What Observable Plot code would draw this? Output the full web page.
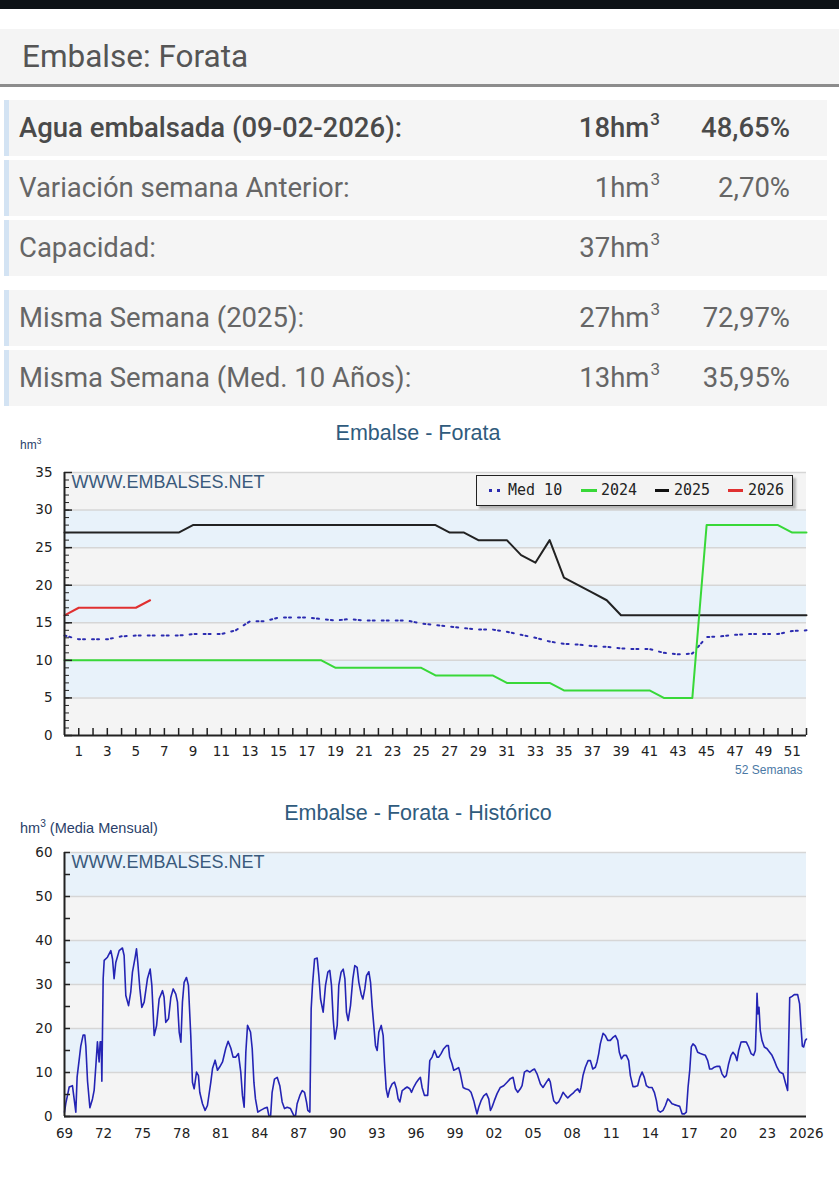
<!DOCTYPE html>
<html lang="es">
<head>
<meta charset="utf-8">
<title>Embalse: Forata</title>
<script src="https://cdn.jsdelivr.net/npm/d3@7"></script>
<script src="https://cdn.jsdelivr.net/npm/@observablehq/plot@0.6"></script>
<style>
  body { margin: 0; background: #fff; }
  #page { position: relative; width: 839px; height: 1200px; overflow: hidden; font-family: Roboto, "Noto Sans", sans-serif; }
  .abs { position: absolute; }
  #status { left: 0; top: 0; width: 839px; height: 9px; background: #0d1216; }
  #header { left: 0; top: 29px; width: 839px; height: 55px; background: #f4f4f4; border-bottom: 3px solid #8c8c8c; }
  #header span { position: absolute; left: 22px; top: 0; line-height: 55px; font-size: 31.5px; color: #555; }
  .row { position: absolute; left: 4px; width: 823px; height: 56px; background: #f5f5f5; border-left: 5px solid #d3e3f3; box-sizing: border-box; font-size: 27.5px; color: #666; }
  .row.main { color: #4a4a4a; font-weight: 500; }
  .row span { position: absolute; top: 0; line-height: 56px; white-space: nowrap; }
  .row .lab { left: 10px; }
  .row .v1 { right: 167px; }
  .row .v2 { right: 37px; }
  .row sup { font-size: 17px; vertical-align: baseline; position: relative; top: -12px; margin-left: 1px; line-height: 0; }
  .title { left: 0; width: 836px; text-align: center; font-family: "Liberation Sans", Arial, sans-serif; font-size: 21.5px; color: #2f5b7d; }
  .unit { font-family: "Liberation Sans", Arial, sans-serif; color: #2a3f6a; }
  .unit sup { font-size: 0.7em; }
  #legend { left: 476px; top: 475px; width: 317px; height: 31px; box-sizing: border-box; border: 1.5px solid #222; background: #f3f3f3; box-shadow: 3px 3px 2px #b5b5b5; font-family: "DejaVu Sans Mono", monospace; font-size: 15px; color: #222; }
  #legend .t { position: absolute; top: 0; line-height: 28px; }
  #legend .sw { position: absolute; top: 13px; height: 3px; }
  #legend .dot { position: absolute; top: 13px; width: 3px; height: 3px; background: #2b2bb0; }
</style>
</head>
<body>
<div id="page">
  <div id="status" class="abs"></div>
  <div id="header" class="abs"><span>Embalse: Forata</span></div>
  <div id="rows"></div>

  <div class="abs title" style="top:420px;line-height:26px;">Embalse - Forata</div>
  <div class="abs unit" style="left:20px;top:436px;font-size:12px;">hm<sup>3</sup></div>
  <div id="chart1" class="abs" style="left:0;top:440px;"></div>
  <div id="legend" class="abs"></div>

  <div class="abs title" style="top:800px;line-height:26px;">Embalse - Forata - Histórico</div>
  <div class="abs unit" style="left:20px;top:818px;font-size:14.5px;">hm<sup>3</sup> (Media Mensual)</div>
  <div id="chart2" class="abs" style="left:0;top:840px;"></div>
</div>

<script>
// ---- Summary table ----
const rowLabels = ["Agua embalsada (09-02-2026):", "Variación semana Anterior:", "Capacidad:", "Misma Semana (2025):", "Misma Semana (Med. 10 Años):"];
const rowVolumes = [18, 1, 37, 27, 13];
const rowPercents = ["48,65%", "2,70%", "", "72,97%", "35,95%"];
const rowTops = [100, 160, 220, 290, 350];

const rowsEl = document.getElementById("rows");
rowLabels.forEach((label, i) => {
  const r = document.createElement("div");
  r.className = "row" + (i === 0 ? " main" : "");
  r.style.top = rowTops[i] + "px";
  r.innerHTML = `<span class="lab">${label}</span>` +
    `<span class="v1">${rowVolumes[i]}hm<sup>3</sup></span>` +
    `<span class="v2">${rowPercents[i]}</span>`;
  rowsEl.appendChild(r);
});

// ---- Weekly reserve (hm3), weeks 0..52 ----
const med10 = [13.3, 12.8, 12.8, 12.8, 13.2, 13.3, 13.3, 13.3, 13.3, 13.5, 13.5, 13.5, 14.0, 15.2, 15.2, 15.7, 15.7, 15.7, 15.5, 15.3, 15.5, 15.3, 15.3, 15.3, 15.3, 14.9, 14.7, 14.5, 14.3, 14.1, 14.1, 13.8, 13.4, 13.0, 12.5, 12.2, 12.1, 11.9, 11.8, 11.6, 11.5, 11.5, 11.0, 10.8, 10.9, 13.1, 13.2, 13.4, 13.5, 13.5, 13.5, 13.9, 14.0];
const year2024 = [10, 10, 10, 10, 10, 10, 10, 10, 10, 10, 10, 10, 10, 10, 10, 10, 10, 10, 10, 9, 9, 9, 9, 9, 9, 9, 8, 8, 8, 8, 8, 7, 7, 7, 7, 6, 6, 6, 6, 6, 6, 6, 5, 5, 5, 28, 28, 28, 28, 28, 28, 27, 27];
const year2025 = [27, 27, 27, 27, 27, 27, 27, 27, 27, 28, 28, 28, 28, 28, 28, 28, 28, 28, 28, 28, 28, 28, 28, 28, 28, 28, 28, 27, 27, 26, 26, 26, 24, 23, 26, 21, 20, 19, 18, 16, 16, 16, 16, 16, 16, 16, 16, 16, 16, 16, 16, 16, 16];
const year2026 = [16, 17, 17, 17, 17, 17, 18];
const weekLabels = d3.range(1, 52, 2);

// ---- Monthly mean reserve history (hm3) ----
const histYears = [
  1969.00, 1969.10, 1969.23, 1969.36, 1969.61, 1969.74, 1969.87, 1969.97, 1970.13, 1970.25, 1970.43, 1970.56, 1970.64, 1970.77, 1970.95,
  1971.15, 1971.28, 1971.41, 1971.53, 1971.66, 1971.74, 1971.82, 1971.87, 1971.97, 1972.05, 1972.30, 1972.56, 1972.69, 1972.81, 1972.94,
  1973.20, 1973.45, 1973.58, 1973.71, 1973.92, 1974.09, 1974.22, 1974.43, 1974.53, 1974.63, 1974.79, 1974.94, 1975.12, 1975.37, 1975.58,
  1975.71, 1975.89, 1976.07, 1976.27, 1976.53, 1976.65, 1976.78, 1976.99, 1977.17, 1977.35, 1977.55, 1977.68, 1977.81, 1977.94, 1978.06,
  1978.19, 1978.37, 1978.52, 1978.70, 1978.83, 1978.96, 1979.14, 1979.29, 1979.39, 1979.60, 1979.80, 1979.98, 1980.24, 1980.37, 1980.57,
  1980.75, 1980.93, 1981.14, 1981.39, 1981.57, 1981.78, 1981.95, 1982.16, 1982.36, 1982.54, 1982.67, 1982.80, 1982.93, 1983.06, 1983.18,
  1983.29, 1983.42, 1983.55, 1983.67, 1983.85, 1984.06, 1984.31, 1984.57, 1984.70, 1984.83, 1984.95, 1985.13, 1985.34, 1985.54, 1985.72,
  1985.90, 1986.11, 1986.36, 1986.49, 1986.62, 1986.75, 1986.87, 1987.08, 1987.26, 1987.44, 1987.59, 1987.69, 1987.85, 1987.95, 1988.05,
  1988.21, 1988.41, 1988.54, 1988.67, 1988.87, 1989.05, 1989.23, 1989.38, 1989.51, 1989.64, 1989.77, 1989.95, 1990.07, 1990.25, 1990.41,
  1990.54, 1990.66, 1990.79, 1990.97, 1991.15, 1991.30, 1991.48, 1991.61, 1991.79, 1991.92, 1992.07, 1992.20, 1992.38, 1992.51, 1992.63,
  1992.76, 1992.89, 1993.02, 1993.15, 1993.33, 1993.48, 1993.58, 1993.71, 1993.84, 1993.99, 1994.17, 1994.35, 1994.50, 1994.63, 1994.76,
  1994.94, 1995.12, 1995.32, 1995.53, 1995.66, 1995.83, 1996.04, 1996.22, 1996.34, 1996.47, 1996.65, 1996.90, 1997.06, 1997.24, 1997.42,
  1997.62, 1997.75, 1997.93, 1998.13, 1998.34, 1998.49, 1998.59, 1998.77, 1998.90, 1999.10, 1999.28, 1999.41, 1999.62, 1999.80, 2000.05,
  2000.23, 2000.44, 2000.56, 2000.69, 2000.82, 2001.00, 2001.20, 2001.41, 2001.59, 2001.72, 2001.84, 2002.02, 2002.23, 2002.48, 2002.74,
  2003.00, 2003.25, 2003.46, 2003.64, 2003.82, 2004.02, 2004.15, 2004.33, 2004.53, 2004.74, 2004.92, 2005.10, 2005.30, 2005.56, 2005.76,
  2006.02, 2006.20, 2006.32, 2006.45, 2006.58, 2006.79, 2006.96, 2007.14, 2007.30, 2007.48, 2007.66, 2007.86, 2008.07, 2008.25, 2008.42,
  2008.58, 2008.68, 2008.83, 2009.01, 2009.22, 2009.40, 2009.58, 2009.78, 2009.91, 2010.04, 2010.16, 2010.37, 2010.55, 2010.73, 2010.93,
  2011.11, 2011.32, 2011.50, 2011.62, 2011.78, 2011.96, 2012.16, 2012.34, 2012.47, 2012.67, 2012.85, 2013.03, 2013.19, 2013.37, 2013.54,
  2013.70, 2013.88, 2014.13, 2014.31, 2014.47, 2014.59, 2014.77, 2014.98, 2015.16, 2015.34, 2015.49, 2015.67, 2015.85, 2016.05, 2016.26,
  2016.44, 2016.62, 2016.77, 2016.90, 2017.03, 2017.15, 2017.28, 2017.46, 2017.64, 2017.85, 2018.05, 2018.23, 2018.41, 2018.56, 2018.74,
  2018.92, 2019.13, 2019.33, 2019.51, 2019.69, 2019.84, 2020.02, 2020.20, 2020.35, 2020.53, 2020.66, 2020.79, 2020.97, 2021.17, 2021.38,
  2021.56, 2021.74, 2021.94, 2022.07, 2022.15, 2022.20, 2022.27, 2022.35, 2022.45, 2022.58, 2022.76, 2022.97, 2023.17, 2023.35, 2023.53,
  2023.73, 2023.94, 2024.20, 2024.37, 2024.55, 2024.63, 2024.71, 2024.89, 2025.06, 2025.32, 2025.47, 2025.58, 2025.68, 2025.78, 2025.91,
  2026.00
];
const histLevels = [
  1, 3, 4.8, 6.7, 7, 4, 1, 9, 13, 16, 18.5, 18.5, 16, 8, 2,
  4, 6, 11.6, 17, 12.4, 17, 17, 8, 31.3, 35.5, 36.2, 37.7, 35.8, 31.3, 35,
  37.7, 38.3, 36.6, 27.5, 25.2, 28.3, 32.8, 36.2, 38.1, 35, 29, 24.8, 26, 31.3, 33.5,
  29.8, 18.4, 20.6, 26.7, 28.6, 27.1, 21.4, 22.2, 27.1, 29, 27.8, 26, 19.2, 16.9, 26,
  30.5, 31.6, 29.8, 18.4, 7.8, 6.3, 10.1, 9.3, 5.5, 2.9, 1.4, 2.5, 7.8, 10.9, 12.8,
  10.5, 11.3, 12.4, 15.5, 17.1, 15.5, 13.5, 13.5, 14.3, 10.1, 4.8, 2.1, 14.6, 20.7, 19.9,
  19.2, 15.4, 7.8, 4, 1, 1.4, 1.8, 2.1, 0.2, 0, 5.5, 8.5, 8.9, 7, 3.3,
  1.8, 2.1, 1.8, 1, 0.2, 0.2, 2.9, 4.8, 5.9, 5.5, 3.3, 1.4, 1, 24.5, 29.8,
  35.8, 36, 32, 26.7, 23.7, 29.8, 32.8, 33.2, 29.8, 22.2, 17.6, 20.7, 29.8, 32.8, 33.5,
  31.3, 23.7, 21.8, 25.2, 31.3, 34.3, 33.9, 30.5, 27.8, 26.7, 29, 32, 32.9, 30.5, 25.2,
  20.7, 16.1, 15, 19.2, 20.7, 18.4, 12.4, 6.3, 4.4, 6.3, 7.4, 7.8, 6.3, 4, 3.3,
  5.9, 6.3, 6.7, 6.3, 5.5, 6.7, 7.8, 8.5, 8.9, 6.6, 4.8, 4.8, 12.7, 13.5, 15,
  13.5, 13.5, 14.3, 15.4, 16.1, 16.1, 13.5, 12, 10.5, 10.8, 11.1, 9.7, 6.6, 6.3, 6.1,
  5.5, 3.6, 2.1, 0.6, 2.1, 3.6, 4.7, 5.2, 4, 1.4, 2.1, 3.6, 5.2, 6.6, 7,
  7.8, 8.6, 8.9, 6.3, 5.5, 6.3, 7, 10.1, 10.5, 10.1, 10.5, 10.8, 9.7, 7.4, 6.6,
  7.8, 8.6, 7.8, 5.5, 3.6, 2.9, 3.3, 4.4, 5.5, 4.8, 4.2, 4.8, 5.3, 5.9, 6.3,
  5.5, 6.6, 9.3, 11.2, 12.7, 12.7, 10.8, 11.2, 12.4, 14.3, 16.5, 18.9, 18.4, 17.3, 17.3,
  17.9, 18.4, 17.3, 14.6, 13.1, 13.9, 13.9, 12.7, 9.3, 6.8, 6.8, 7, 8.9, 10.1, 8.9,
  7, 6.6, 6.6, 5.5, 3.6, 1.4, 1, 1.4, 2.5, 4, 3.6, 2.9, 2.7, 2.5, 2.3,
  0.6, 0.6, 1, 6.6, 10.5, 15.8, 16.5, 16, 14.6, 14.3, 14.1, 13.9, 12.7, 10.8, 10.8,
  11.2, 11.4, 11.4, 9.7, 8.9, 9.3, 12, 13.9, 14.6, 13.9, 12.7, 15, 16.9, 17, 16.9,
  15.8, 14.3, 13.9, 15, 21.8, 28, 23.3, 24.8, 19.5, 17.3, 15.8, 15.4, 14.6, 13.9, 12.7,
  11.2, 10.1, 9.7, 7.8, 5.9, 16.5, 27, 27.3, 27.7, 27.7, 25.6, 20.3, 16, 15.8, 17.3,
  17.6
];
const histTicks = d3.range(1969, 2027, 3);

// ---- Shared styling ----
const bandGrey = "#f4f4f4", bandBlue = "#e8f2fa", gridColor = "#d6d6d6", axisColor = "#222";
const tickFont = "'DejaVu Sans', Verdana, sans-serif";
const siteFont = "'Liberation Sans', Arial, sans-serif";

function bands(step, max) {
  return d3.range(0, max, step).map((lo, i) => ({lo, hi: lo + step, fill: i % 2 ? bandBlue : bandGrey}));
}

// ---- Chart 1: weekly comparison ----
{
  const W = 839, H = 340, ml = 64, mr = 33, mt = 32, mb = 45;
  const pw = W - ml - mr, ph = H - mt - mb;
  const idx = (d, i) => i;
  const val = d => d;
  const chart = Plot.plot({
    width: W, height: H,
    marginLeft: ml, marginRight: mr, marginTop: mt, marginBottom: mb,
    style: {background: "transparent", fontFamily: tickFont, fontSize: "13.5px", color: "#222", overflow: "visible"},
    x: {domain: [0, 52]},
    y: {domain: [0, 35]},
    marks: [
      Plot.rect(bands(5, 35), {x1: 0, x2: 52, y1: "lo", y2: "hi", fill: "fill"}),
      Plot.ruleY(d3.range(5, 36, 5), {stroke: gridColor, strokeWidth: 1.5}),
      Plot.text(["WWW.EMBALSES.NET"], {frameAnchor: "top-left", dx: 7, dy: 3, textAnchor: "start", lineAnchor: "top", fontFamily: siteFont, fontSize: 18, fill: "#3a5a7c"}),
      Plot.line(med10, {x: idx, y: val, stroke: "#2b2bb0", strokeWidth: 2, strokeDasharray: "2,3,2,7"}),
      Plot.line(year2025, {x: idx, y: val, stroke: "#222", strokeWidth: 2}),
      Plot.line(year2024, {x: idx, y: val, stroke: "#38d838", strokeWidth: 2}),
      Plot.line(year2026, {x: idx, y: val, stroke: "#e03030", strokeWidth: 2}),
      Plot.tickY(d3.range(0, 36, 1), {stroke: axisColor, insetRight: pw - 5}),
      Plot.tickY(d3.range(0, 36, 5), {stroke: axisColor, strokeWidth: 1.5, insetRight: pw - 8}),
      Plot.tickX(d3.range(1, 53), {stroke: axisColor, strokeWidth: 1.5, insetTop: ph - 7}),
      Plot.ruleX([0], {stroke: axisColor, strokeWidth: 2}),
      Plot.ruleY([0], {stroke: axisColor, strokeWidth: 2}),
      Plot.axisY(d3.range(0, 36, 5), {tickSize: 0, tickPadding: 12, fill: "#222", label: null}),
      Plot.axisX(weekLabels, {tickSize: 0, tickPadding: 11, fill: "#222", label: null}),
      Plot.text(["52 Semanas"], {frameAnchor: "bottom-right", dx: -4, dy: 30, textAnchor: "end", lineAnchor: "top", fontFamily: siteFont, fontSize: 12, fill: "#4a79a5"})
    ]
  });
  document.getElementById("chart1").appendChild(chart);
}

// ---- Legend for chart 1 ----
{
  const lg = document.getElementById("legend");
  lg.innerHTML =
    `<div class="dot" style="left:12px"></div><div class="dot" style="left:20px"></div>` +
    `<div class="t" style="left:31px">Med 10</div>` +
    `<div class="sw" style="left:104px;width:16px;background:#38d838"></div><div class="t" style="left:124px">2024</div>` +
    `<div class="sw" style="left:178px;width:14px;background:#111"></div><div class="t" style="left:197px">2025</div>` +
    `<div class="sw" style="left:251px;width:15px;background:#e03030"></div><div class="t" style="left:271px">2026</div>`;
}

// ---- Chart 2: monthly history ----
{
  const W = 839, H = 310, ml = 64, mr = 33, mt = 12, mb = 34;
  const pw = W - ml - mr;
  const hist = histYears.map((year, i) => ({year, level: histLevels[i]}));
  const chart = Plot.plot({
    width: W, height: H,
    marginLeft: ml, marginRight: mr, marginTop: mt, marginBottom: mb,
    style: {background: "transparent", fontFamily: tickFont, fontSize: "13.5px", color: "#222", overflow: "visible"},
    x: {domain: [1969, 2026]},
    y: {domain: [0, 60]},
    marks: [
      Plot.rect(bands(10, 60), {x1: 1969, x2: 2026, y1: "lo", y2: "hi", fill: "fill"}),
      Plot.ruleY(d3.range(10, 61, 10), {stroke: gridColor, strokeWidth: 1.5}),
      Plot.text(["WWW.EMBALSES.NET"], {frameAnchor: "top-left", dx: 7, dy: 3, textAnchor: "start", lineAnchor: "top", fontFamily: siteFont, fontSize: 18, fill: "#3a5a7c"}),
      Plot.line(hist, {x: "year", y: "level", stroke: "#2424b4", strokeWidth: 1.6}),
      Plot.tickY(d3.range(0, 61, 5), {stroke: axisColor, strokeWidth: 1.5, insetRight: pw - 6}),
      Plot.ruleX([1969], {stroke: axisColor, strokeWidth: 2}),
      Plot.ruleY([0], {stroke: axisColor, strokeWidth: 2}),
      Plot.axisY(d3.range(0, 61, 10), {tickSize: 0, tickPadding: 12, fill: "#222", label: null}),
      Plot.axisX(histTicks, {tickSize: 0, tickPadding: 12, fill: "#222", label: null, tickFormat: d => d === 2026 ? "2026" : String(d).slice(2)})
    ]
  });
  document.getElementById("chart2").appendChild(chart);
}
</script>
</body>
</html>
